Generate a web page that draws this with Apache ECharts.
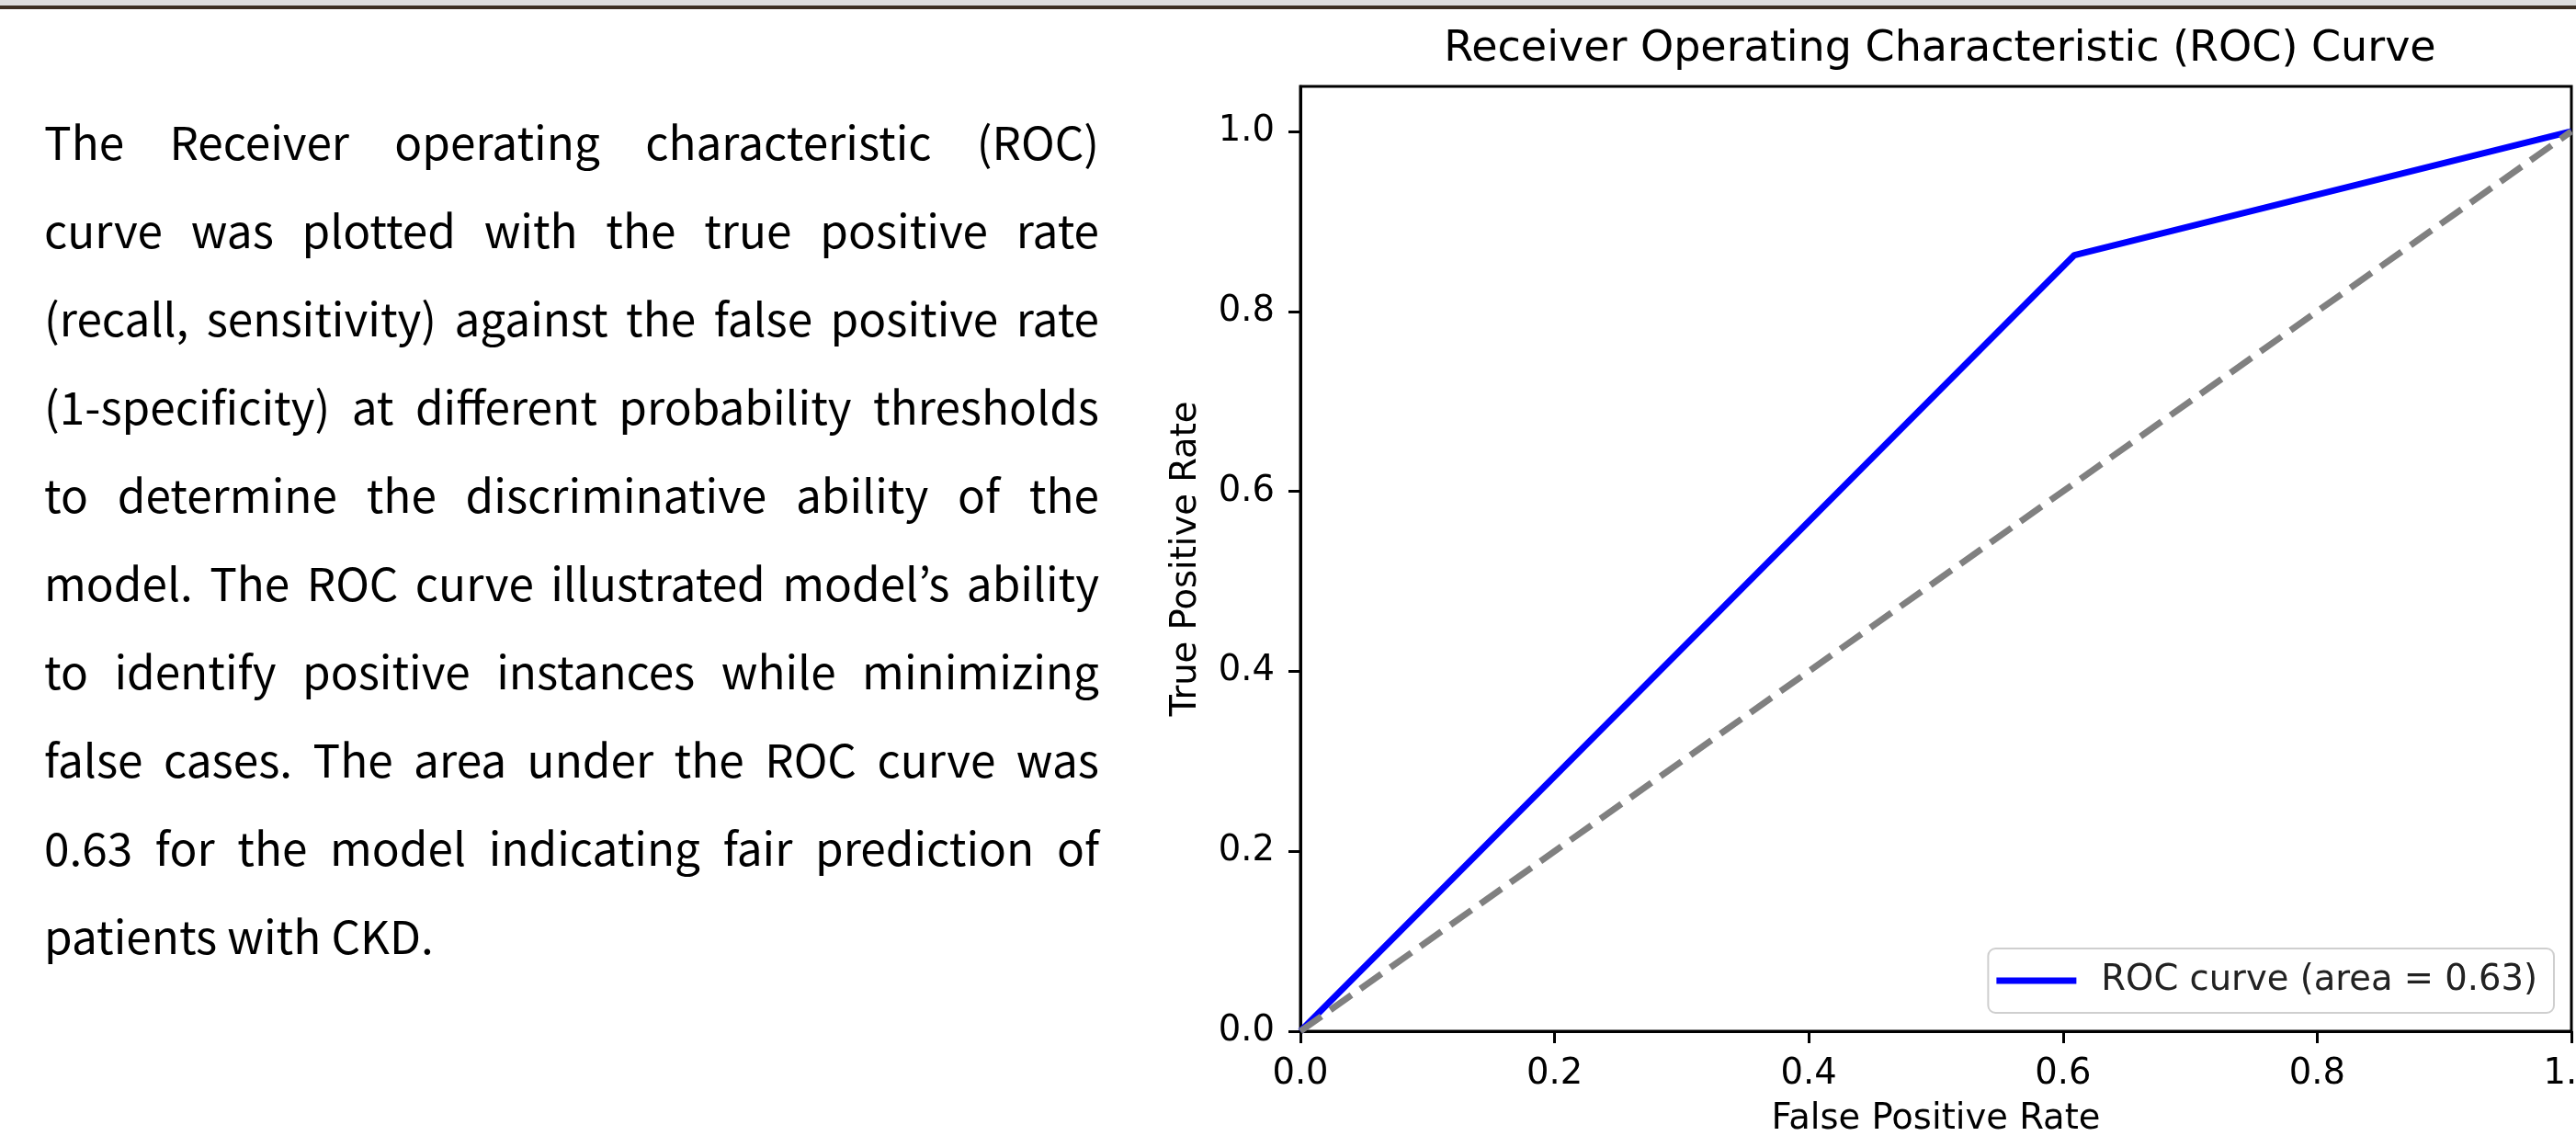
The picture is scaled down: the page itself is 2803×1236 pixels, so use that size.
<!DOCTYPE html>
<html style="height: 100%">
<head>
	<meta charset="utf-8">
	<script type="text/javascript" src="https://cdn.jsdelivr.net/npm/echarts@6/dist/echarts.min.js"></script>
	<style>
		body { margin: 0; width: 2803px; height: 1236px; overflow: hidden; background: #fff; position: relative; }
		#topbar1 { position: absolute; left: 0; top: 0; width: 100%; height: 6px; background: #dedede; }
		#topbar2 { position: absolute; left: 0; top: 6px; width: 100%; height: 4px; background: #3d3024; }
		#para { position: absolute; left: 48px; top: 105px; width: 1148px;
			font-family: "Noto Sans CJK KR", "Noto Sans", sans-serif; font-size: 49.5px; color: #000; }
		#para div { height: 96px; line-height: 96px; white-space: nowrap; text-align: justify; text-align-last: justify; }
		#para div.last { text-align: left; text-align-last: left; }
		#container { position: absolute; left: 0; top: 0; width: 2803px; height: 1236px; }
	</style>
</head>
<body>
<div id="topbar1"></div>
<div id="topbar2"></div>
<div id="para"></div>
<div id="container"></div>
<script type="text/javascript">
    // ROC curve points
    var fpr = [0.0, 0.609, 1.0];
    var tpr = [0.0, 0.8625, 1.0];
    // chance diagonal
    var chanceX = [0.0, 1.0];
    var chanceY = [0.0, 1.0];
    var xTicks = [0.0, 0.2, 0.4, 0.6, 0.8, 1.0];
    var yTicks = [0.0, 0.2, 0.4, 0.6, 0.8, 1.0];
    var rocLabel = 'ROC curve (area = 0.63)';

    var paraLines = [
        'The Receiver operating characteristic (ROC)',
        'curve was plotted with the true positive rate',
        '(recall, sensitivity) against the false positive rate',
        '(1-specificity) at different probability thresholds',
        'to determine the discriminative ability of the',
        'model. The ROC curve illustrated model\u2019s ability',
        'to identify positive instances while minimizing',
        'false cases. The area under the ROC curve was',
        '0.63 for the model indicating fair prediction of',
        'patients with CKD.'
    ];

    var para = document.getElementById('para');
    for (var i = 0; i < paraLines.length; i++) {
        var d = document.createElement('div');
        d.textContent = paraLines[i];
        if (i === paraLines.length - 1) d.className = 'last';
        para.appendChild(d);
    }

    function pairs(xs, ys) {
        var out = [];
        for (var i = 0; i < xs.length; i++) out.push([xs[i], ys[i]]);
        return out;
    }

    var font = 'DejaVu Sans';
    var dom = document.getElementById('container');
    var myChart = echarts.init(dom, null, { renderer: 'canvas' });

    var option = {
        animation: false,
        title: {
            text: 'Receiver Operating Characteristic (ROC) Curve',
            left: 2106,
            textAlign: 'center',
            top: 26,
            textStyle: { fontFamily: font, fontSize: 46, fontWeight: 'normal', color: '#000' }
        },
        legend: {
            data: [rocLabel],
            right: 24,
            bottom: 134,
            orient: 'vertical',
            icon: 'rect',
            itemWidth: 87,
            itemHeight: 7,
            padding: [13, 18, 13, 9],
            backgroundColor: 'rgba(255,255,255,0.8)',
            borderColor: '#cfcfcf',
            borderWidth: 2,
            borderRadius: 8,
            textStyle: { fontFamily: font, fontSize: 38.5, color: '#222', padding: [0, 0, 0, 22], lineHeight: 44 }
        },
        grid: {
            left: 1415,
            top: 94,
            width: 1383,
            height: 1028,
            show: true,
            borderColor: '#000',
            borderWidth: 3,
            containLabel: false,
            outerBoundsMode: 'none'
        },
        xAxis: {
            type: 'value',
            min: 0,
            max: 1,
            interval: 0.2,
            name: 'False Positive Rate',
            nameLocation: 'middle',
            nameGap: 76,
            nameTextStyle: { fontFamily: font, fontSize: 38.5, color: '#000' },
            axisLine: { show: true, lineStyle: { color: '#000', width: 3 } },
            axisTick: { show: true, length: 13, lineStyle: { color: '#000', width: 3 } },
            axisLabel: {
                margin: 27,
                fontFamily: font,
                fontSize: 38.5,
                color: '#000',
                formatter: function (v) { return v.toFixed(1); }
            },
            splitLine: { show: false }
        },
        yAxis: {
            type: 'value',
            min: 0,
            max: 1.05,
            name: 'True Positive Rate',
            nameLocation: 'middle',
            nameGap: 105,
            nameTextStyle: { fontFamily: font, fontSize: 38.5, color: '#000' },
            axisLine: { show: true, lineStyle: { color: '#000', width: 3 } },
            axisTick: { show: true, length: 13, customValues: yTicks, lineStyle: { color: '#000', width: 3 } },
            axisLabel: {
                margin: 28,
                customValues: yTicks,
                fontFamily: font,
                fontSize: 38.5,
                color: '#000',
                formatter: function (v) { return v.toFixed(1); }
            },
            splitLine: { show: false }
        },
        series: [{
            name: rocLabel,
            type: 'line',
            data: pairs(fpr, tpr),
            showSymbol: false,
            symbol: 'none',
            itemStyle: { color: '#0000ff' },
            lineStyle: { color: '#0000ff', width: 7 },
            z: 3
        }, {
            name: 'chance',
            type: 'line',
            data: pairs(chanceX, chanceY),
            showSymbol: false,
            symbol: 'none',
            itemStyle: { color: '#808080' },
            lineStyle: { color: '#808080', width: 7, type: [28, 12] },
            z: 4
        }]
    };

    myChart.setOption(option, true);
</script>
</body>
</html>
